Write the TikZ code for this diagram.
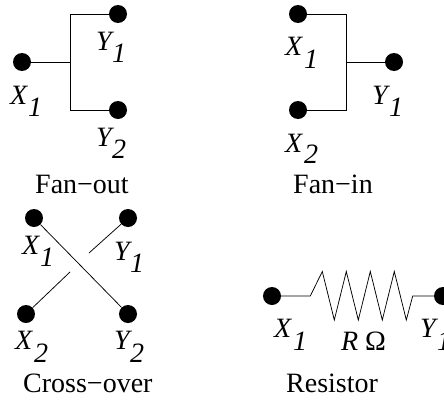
\documentclass[tikz,border=0pt]{standalone}
\usepackage{fontspec}
\setmainfont{Liberation Serif}
\begin{document}
\begin{tikzpicture}[x=1pt,y=-1pt,
  pin/.style={circle,fill=black,draw=none,inner sep=0pt,minimum size=18pt},
  wire/.style={draw=black,line width=0.75pt},
  lbl/.style={inner sep=0pt,anchor=base west,font=\fontsize{28}{28}\selectfont\itshape},
  captxt/.style={inner sep=0pt,anchor=base west,font=\fontsize{28}{28}\selectfont}]
\clip (0,0) rectangle (444,399);
\useasboundingbox (0,0) rectangle (444,399);
\fill[white] (0,0) rectangle (444,399);
% Fan-out
\node[pin] (foX) at (22,62) {};
\node[pin] (foA) at (118,14) {};
\node[pin] (foB) at (118,110) {};
\coordinate (foT) at (70.5,14);
\coordinate (foM) at (70.5,62);
\coordinate (foD) at (70.5,110);
\draw[wire] (foA) -- (foT) -- (foD) -- (foB);
\draw[wire] (foX) -- (foM);
\node[lbl] (t1) at (96,50) {Y};
\node[lbl] (t2) at (112,62) {1};
\node[lbl] (t3) at (96,146) {Y};
\node[lbl] (t4) at (112,158) {2};
\node[lbl] (t5) at (10,104) {X};
\node[lbl] (t6) at (28,116) {1};
\node[captxt] (t7) at (35,193) {Fan−out};
% Fan-in
\node[pin] (fiA) at (298,14) {};
\node[pin] (fiB) at (298,110) {};
\node[pin] (fiY) at (394,62) {};
\coordinate (fiT) at (346.5,14);
\coordinate (fiM) at (346.5,62);
\coordinate (fiD) at (346.5,110);
\draw[wire] (fiA) -- (fiT) -- (fiD) -- (fiB);
\draw[wire] (fiM) -- (fiY);
\node[lbl] (u1) at (285,55) {X};
\node[lbl] (u2) at (304,68) {1};
\node[lbl] (u3) at (285,152) {X};
\node[lbl] (u4) at (304,163) {2};
\node[lbl] (u5) at (372,104) {Y};
\node[lbl] (u6) at (389,116) {1};
\node[captxt] (u7) at (293,193) {Fan−in};
% Cross-over
\node[pin] (coA) at (34,218) {};
\node[pin] (coB) at (128,218) {};
\node[pin] (coC) at (26,314) {};
\node[pin] (coD) at (128,314) {};
\coordinate (coE) at (89,253);
\coordinate (coF) at (70,272);
\draw[wire] (coA) -- (coD);
\draw[wire] (coB) -- (coE);
\draw[wire] (coC) -- (coF);
\node[lbl] (v1) at (22,254) {X};
\node[lbl] (v2) at (40,266) {1};
\node[lbl] (v3) at (114,260) {Y};
\node[lbl] (v4) at (130,272) {1};
\node[lbl] (v5) at (15,349) {X};
\node[lbl] (v6) at (34,362) {2};
\node[lbl] (v7) at (114,349) {Y};
\node[lbl] (v8) at (130,362) {2};
\node[captxt] (v9) at (23,392) {Cross−over};
% Resistor
\node[pin] (reA) at (272,296) {};
\node[pin] (reB) at (443,296) {};
\draw[wire,line join=miter] (reA) -- (310.3,296) -- (322.3,271.5) -- (334.3,320) -- (346.3,271.5) -- (358.3,320) -- (370.3,271.5) -- (382.3,320) -- (394.3,271.5) -- (406.3,320) -- (412.7,296) -- (reB);
\node[lbl] (w1) at (274,337) {X};
\node[lbl] (w2) at (293,350) {1};
\node[lbl] (w3) at (341,350) {R};
\node[captxt] (w4) at (365,350) {Ω};
\node[lbl] (w5) at (420,337) {Y};
\node[lbl] (w6) at (437,350) {1};
\node[captxt] (w7) at (286,392) {Resistor};
\end{tikzpicture}
\end{document}
